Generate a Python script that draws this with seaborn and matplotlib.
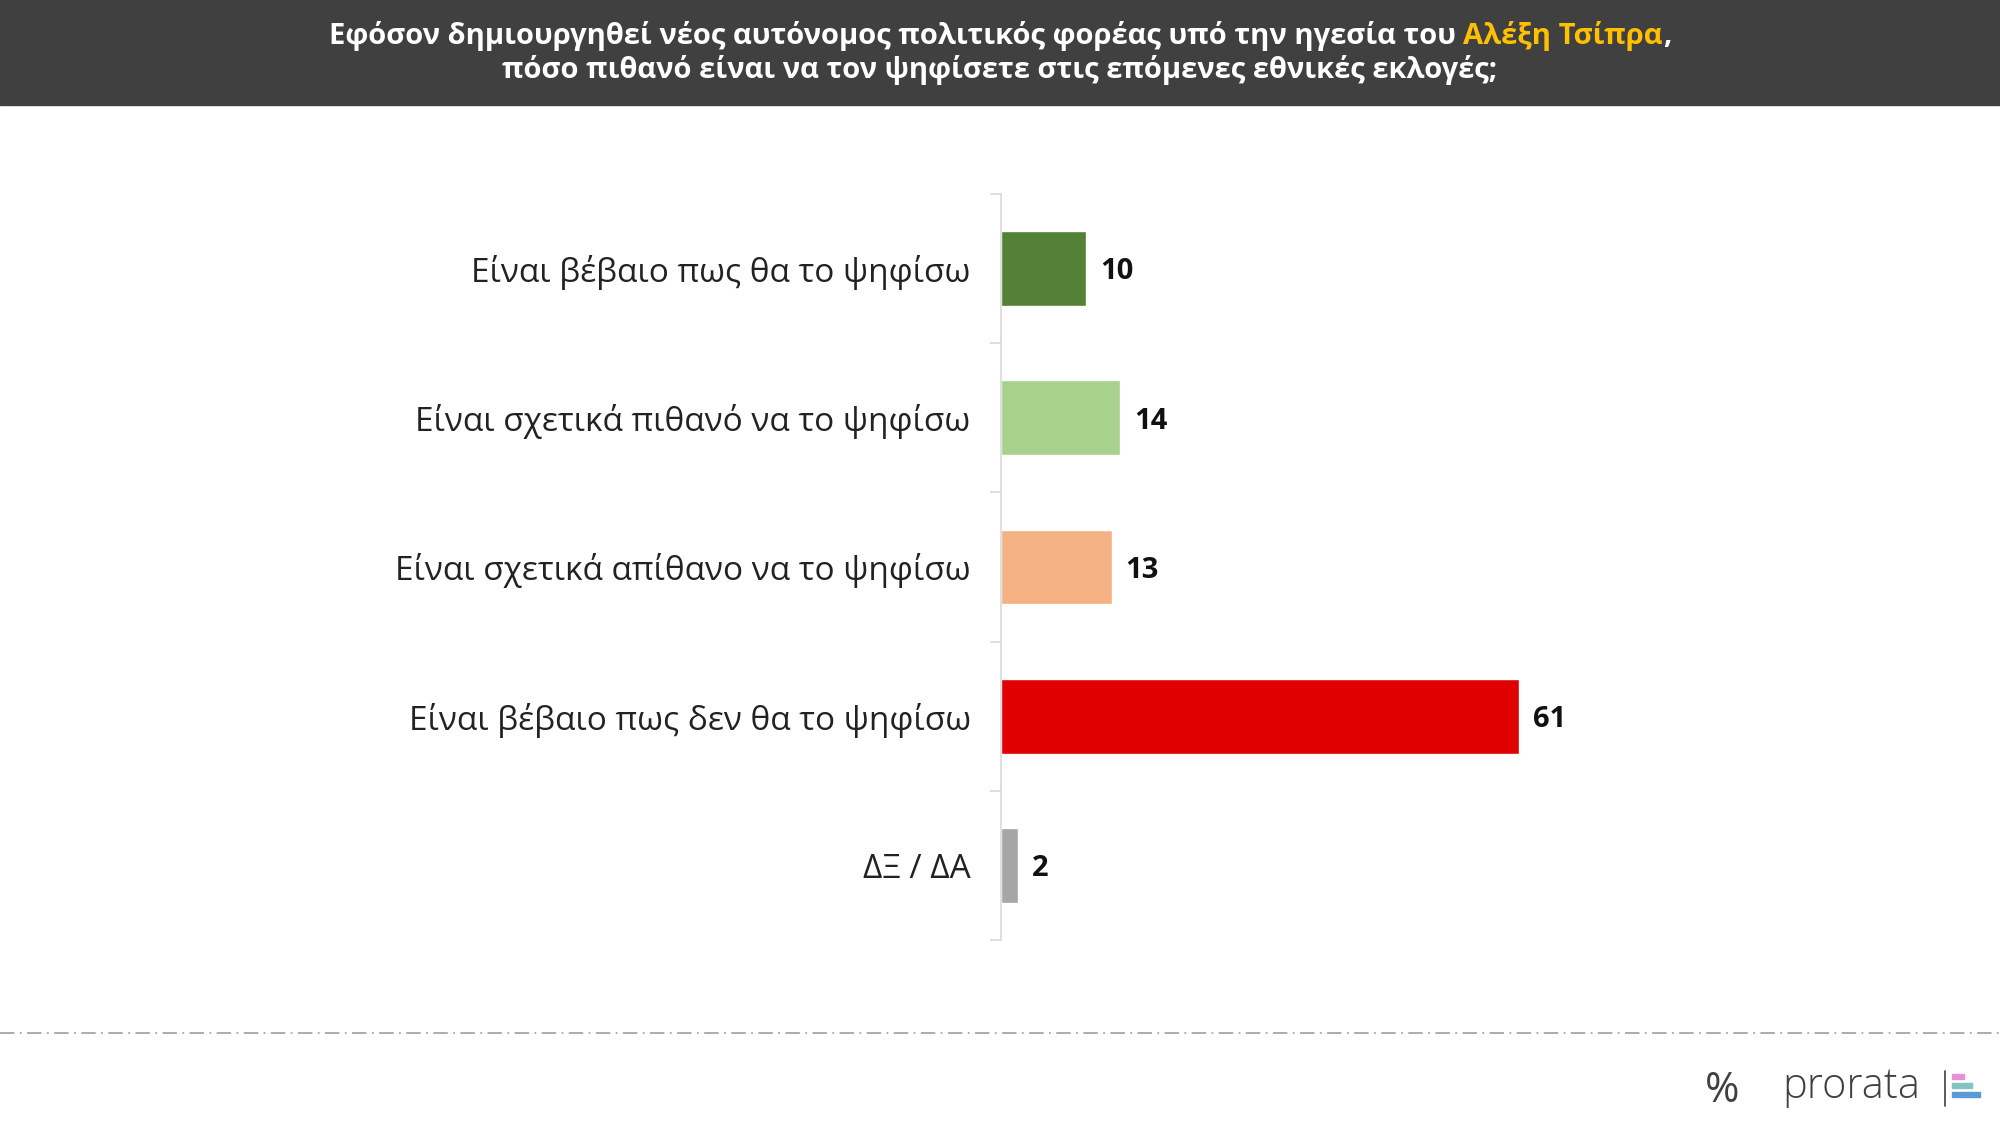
import matplotlib
matplotlib.use("Agg")
import matplotlib.pyplot as plt
import seaborn as sns
import pandas as pd
import numpy as np
from matplotlib.lines import Line2D

categories = ["Είναι βέβαιο πως θα το ψηφίσω", "Είναι σχετικά πιθανό να το ψηφίσω",
              "Είναι σχετικά απίθανο να το ψηφίσω", "Είναι βέβαιο πως δεν θα το ψηφίσω", "ΔΞ / ΔΑ"]
values = [10, 14, 13, 61, 2]
colors = ["#538135", "#a9d18e", "#f4b183", "#e00000", "#a6a6a6"]

sns.set_style("white")
plt.rcParams['font.family'] = ['Open Sans', 'DejaVu Sans']

W, H = 1568, 882
fig = plt.figure(figsize=(20, 11.25), dpi=100)
fig.patches.append(plt.Rectangle((0, 1 - 82 / H), 1, 82 / H, transform=fig.transFigure, color="#404040", zorder=0))
t1 = "Εφόσον δημιουργηθεί νέος αυτόνομος πολιτικός φορέας υπό την ηγεσία του "
t2 = "Αλέξη Τσίπρα"
y1 = 1 - 28 / H
tf = dict(va="center", fontsize=21, fontweight="bold")
txt = fig.text(0, y1, t1, ha="left", color="white", **tf)
txt2 = fig.text(0, y1, t2, ha="left", color="#ffc000", **tf)
txt3 = fig.text(0, y1, ",", ha="left", color="white", **tf)
fig.canvas.draw()
w1 = txt.get_window_extent().width / fig.bbox.width
w2 = txt2.get_window_extent().width / fig.bbox.width
w3 = txt3.get_window_extent().width / fig.bbox.width
x0 = 0.5 - (w1 + w2 + w3) / 2
txt.set_x(x0); txt2.set_x(x0 + w1); txt3.set_x(x0 + w1 + w2)
fig.text(0.5, 1 - 55 / H, "πόσο πιθανό είναι να τον ψηφίσετε στις επόμενες εθνικές εκλογές;",
         ha="center", color="white", **tf)

left = 785 / W
right = 1500 / W
ax = fig.add_axes([left, 1 - 737 / H, right - left, (737 - 152) / H])
df = pd.DataFrame({"cat": categories, "val": values})
sns.barplot(data=df, x="val", y="cat", hue="cat", palette=colors, legend=False, width=0.5, ax=ax, saturation=1)
ax.set_xlim(0, (1500 - 785) / 6.66)
ax.set_ylim(4.5, -0.5)
ax.set_xlabel(""); ax.set_ylabel("")
ax.set_xticks([])
ax.set_yticks(range(5))
ax.set_yticklabels(categories, fontsize=24, color="#222222")
ax.set_yticks(np.arange(-0.5, 5, 1), minor=True)
ax.tick_params(axis="y", which="major", length=0, pad=22, left=False)
ax.tick_params(axis="y", which="minor", length=8, color="#d9d9d9", width=1.2, left=True)
for s in ["top", "right", "bottom"]:
    ax.spines[s].set_visible(False)
ax.spines["left"].set_color("#d9d9d9")
ax.spines["left"].set_linewidth(1.2)
for i, v in enumerate(values):
    ax.text(v + 1.6, i, str(v), va="center_baseline", ha="left", fontsize=21, fontweight="bold", color="#111111")
ax.patch.set_alpha(0)

fig.add_artist(Line2D([0, 1], [1 - 810 / H] * 2, transform=fig.transFigure, color="#a6a6a6",
                      linestyle=(0, (8, 3, 1, 3)), linewidth=1.3))
fig.text(1350 / W, 1 - 855 / H, "%", fontsize=30, color="#404040", ha="center", va="center")
fig.text(1397 / W, 1 - 852 / H, "prorata", fontsize=30, color="#404040", ha="left", va="center", fontweight="light")
for k, (c, w) in enumerate([("#e88fd8", 10), ("#7fc6c0", 16), ("#5b9bd5", 22)]):
    fig.patches.append(plt.Rectangle((1530 / W, 1 - (846 + k * 7) / H), w / W, 4 / H,
                                     transform=fig.transFigure, color=c))
fig.add_artist(Line2D([1525 / W] * 2, [1 - 867 / H, 1 - 840 / H], transform=fig.transFigure, color="#404040", lw=1.2))
fig.savefig("out.png", dpi=100, facecolor="white")
